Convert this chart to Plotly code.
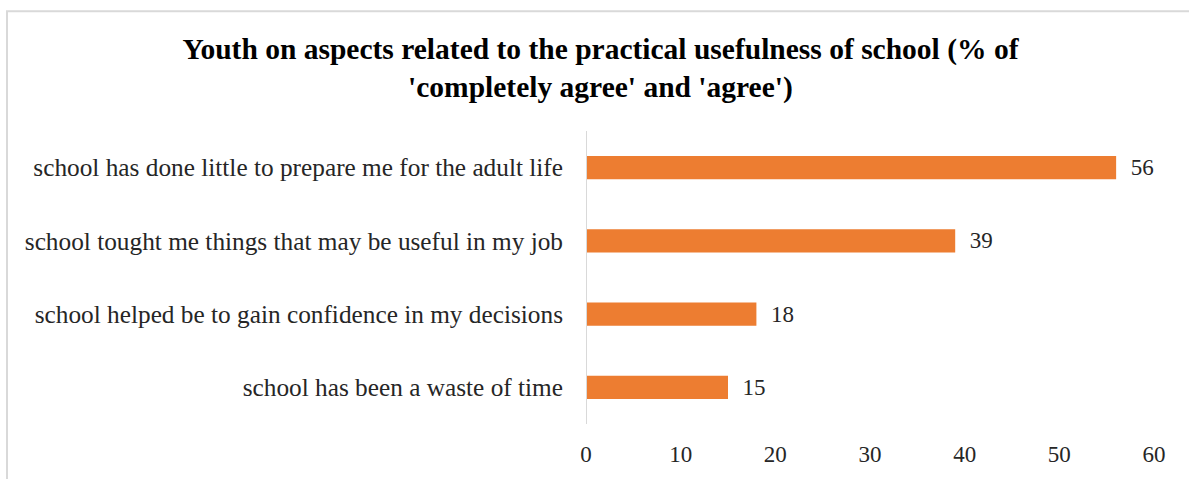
import plotly.graph_objects as go

# survey answers, bottom to top as drawn
statements = [
    'school has been a waste of time',
    'school helped be to gain confidence in my decisions',
    'school tought me things that may be useful in my job',
    'school has done little to prepare me for the adult life',
]
shares = [15, 18, 39, 56]
x_ticks = [0, 10, 20, 30, 40, 50, 60]

fig = go.Figure()
fig.add_trace(go.Bar(
    x=shares,
    y=statements,
    orientation='h',
    width=0.32,
    marker=dict(color='#ED7D31', line=dict(width=0)),
    text=shares,
    texttemplate='  %{x}',
    textposition='outside',
    constraintext='none',
    textfont=dict(family='Liberation Serif', size=23, color='#262626'),
    cliponaxis=False,
))

fig.update_layout(
    width=1189,
    height=479,
    margin=dict(l=586, r=35, t=131, b=52),
    paper_bgcolor='white',
    plot_bgcolor='white',
    showlegend=False,
    title=dict(
        text="<b>Youth on aspects related to the practical usefulness of school (% of<br>'completely agree' and 'agree')</b>",
        x=0.505, xanchor='center',
        y=1 - 59 / 479, yanchor='middle', yref='container',
        font=dict(family='Liberation Serif', size=29.5, color='black'),
    ),
    font=dict(family='Liberation Serif', size=23, color='#262626'),
    xaxis=dict(
        range=[0, 60],
        tickvals=x_ticks,
        showgrid=False,
        zeroline=False,
        showline=False,
        ticks='',
        ticklabelstandoff=14,
        tickfont=dict(size=23),
    ),
    yaxis=dict(
        categoryorder='array',
        categoryarray=statements,
        showgrid=False,
        zeroline=False,
        showline=False,
        ticks='',
        ticklabelstandoff=22,
        tickfont=dict(size=25.3),
    ),
    shapes=[
        # value axis line at zero
        dict(type='line', xref='x', yref='paper', x0=0, x1=0, y0=0, y1=1,
             line=dict(color='#D9D9D9', width=2)),
        # chart border, runs past the right and bottom of the picture
        dict(type='rect', xref='paper', yref='paper',
             x0=(7 - 586) / 568, x1=(1200 - 586) / 568,
             y0=(427 - 495) / 296, y1=(427 - 10) / 296,
             line=dict(color='#D9D9D9', width=2), layer='below'),
    ],
)

# drop the default 8px body margin so the figure sits at the page corner
fig.write_html("out.html", config={'displayModeBar': False},
               post_script="document.body.style.margin='0';")
